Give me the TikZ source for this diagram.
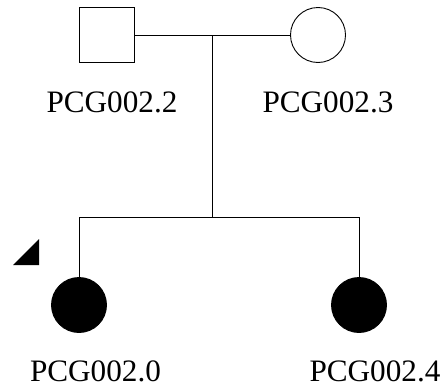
\documentclass[tikz,border=0pt]{standalone}
\usepackage{fontspec}
\setmainfont{Liberation Serif}
\begin{document}
\begin{tikzpicture}[x=1pt,y=-1pt,
  edge/.style={draw=black,line width=0.9pt},
  male/.style={draw=black,line width=0.9pt,fill=white,rectangle,minimum size=55pt,inner sep=0pt},
  female/.style={draw=black,line width=0.9pt,fill=white,circle,minimum size=55pt,inner sep=0pt},
  affected/.style={draw=black,line width=0.9pt,fill=black,circle,minimum size=55pt,inner sep=0pt},
  lbl/.style={anchor=base,inner sep=0pt,font=\fontsize{31.2}{38}\selectfont}]
\useasboundingbox (0,0) rectangle (444,391);
\node[male] (f) at (106.5,35) {};
\node[female] (m) at (318,35) {};
\node[affected] (c0) at (79,305) {};
\node[affected] (c4) at (359,305) {};
\coordinate (mid) at (212.7,35);
\coordinate (sib) at (212.7,217);
\coordinate (sl) at (79,217);
\coordinate (sr) at (359,217);
\draw[edge] (f.east) -- (m.west);
\draw[edge] (mid) -- (sib);
\draw[edge] (sl) -- (sr);
\draw[edge] (sl) -- (c0.north);
\draw[edge] (sr) -- (c4.north);
\fill[black] (13,265) -- (39,265) -- (39,239) -- cycle;
\node[lbl] (lf) at (112,112.7) {PCG002.2};
\node[lbl] (lm) at (328,112.7) {PCG002.3};
\node[lbl] (l0) at (95.5,381.5) {PCG002.0};
\node[lbl] (l4) at (375,381.5) {PCG002.4};
\end{tikzpicture}
\end{document}
